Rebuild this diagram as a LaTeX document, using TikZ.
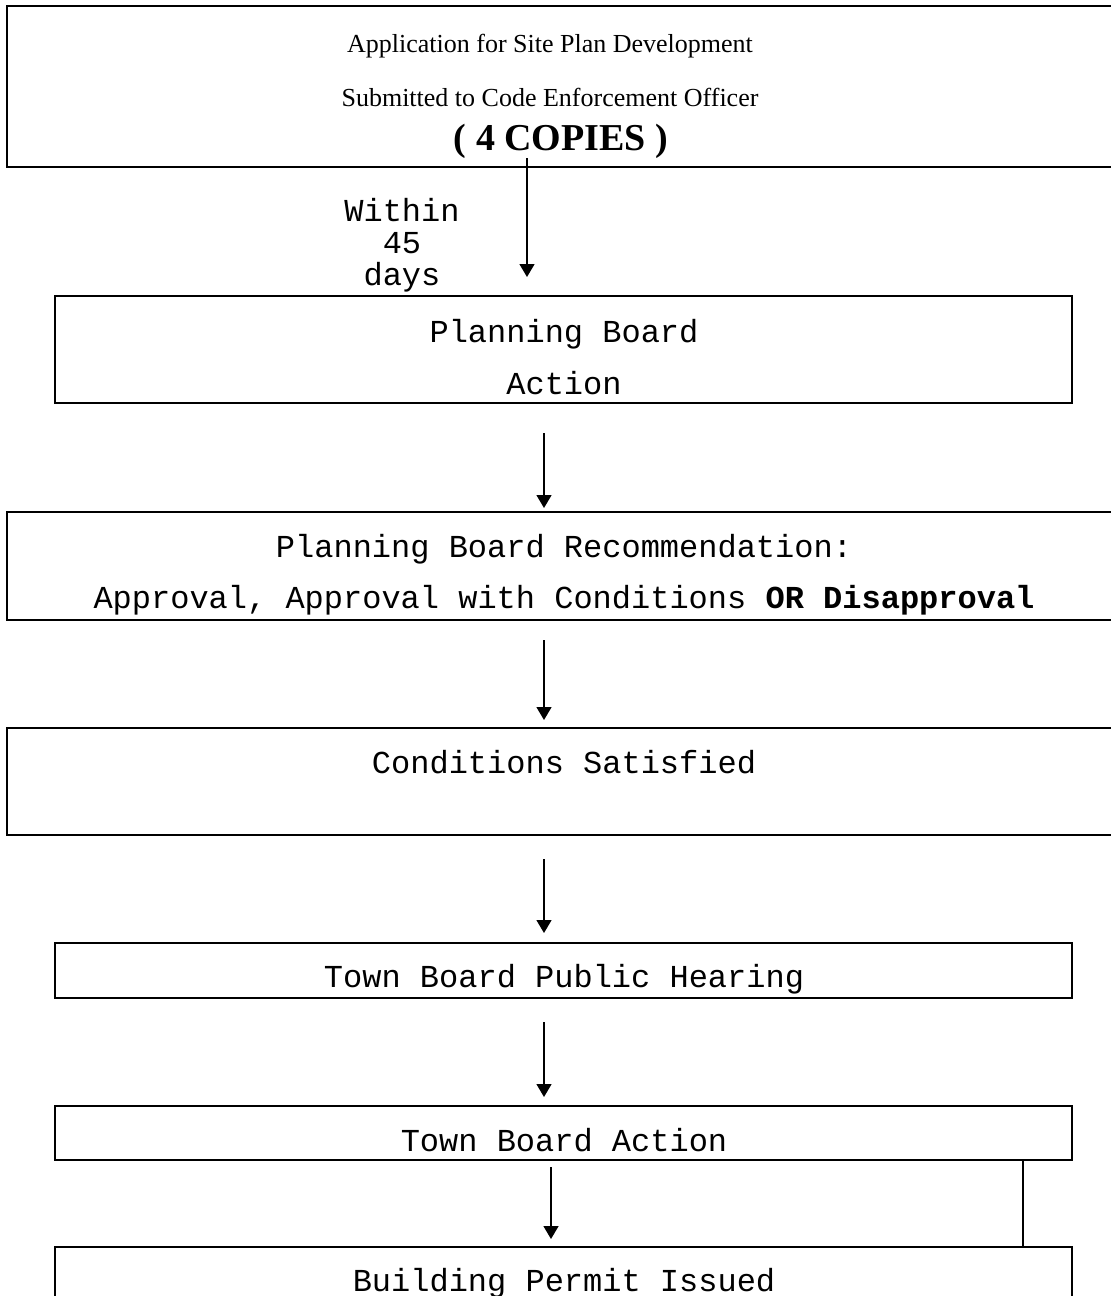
\documentclass[tikz,border=0pt]{standalone}
\usepackage{fontspec}
\setmainfont{Liberation Serif}
\newfontfamily\courfont{Liberation Mono}
\usetikzlibrary{arrows.meta, fit}

\begin{document}
\begin{tikzpicture}[x=0.5pt, y=-0.5pt,
		box/.style={draw, line width=1.1pt, inner sep=0pt, outer sep=0pt},
		serif/.style={font=\fontsize{13}{27}\selectfont, align=center, anchor=base, inner sep=0pt},
		mono/.style={font=\courfont\fontsize{16}{26}\selectfont, align=center, anchor=base, inner sep=0pt},
		arr/.style={-{Triangle[length=6.5pt, width=7.5pt]}, line width=0.7pt},
		link/.style={line width=0.7pt}]
		\clip (0,0) rectangle (1111,1296);
		% boxes
		\node[box, fit={(7,6) (1115,167)}] (app) {};
		\node[box, fit={(55,296) (1072,403)}] (pba) {};
		\node[box, fit={(7,512) (1115,620)}] (pbr) {};
		\node[box, fit={(7,728) (1115,835)}] (cs) {};
		\node[box, fit={(55,943) (1072,998)}] (tbh) {};
		\node[box, fit={(55,1106) (1072,1160)}] (tba) {};
		\node[box, fit={(55,1247) (1072,1320)}] (bpi) {};
		% texts (multi-line nodes sit on their last baseline)
		\node[serif] (appT) at (550,106) {Application for Site Plan Development\\Submitted to Code Enforcement Officer};
		\node[serif, font=\bfseries\fontsize{19}{19}\selectfont] (copies) at (561,150) {( 4 COPIES )};
		\node[mono, font=\courfont\fontsize{16}{16}\selectfont] (within) at (402,285) {Within\\45\\days};
		\node[mono] (pbaT) at (564,394) {Planning Board\\Action};
		\node[mono, font=\courfont\fontsize{16}{25.5}\selectfont] (pbrT) at (564,608)
			{Planning Board Recommendation:\\Approval, Approval with Conditions \textbf{OR Disapproval}};
		\node[mono] (csT) at (564,773) {Conditions Satisfied};
		\node[mono] (tbhT) at (564,987) {Town Board Public Hearing};
		\node[mono] (tbaT) at (564,1151) {Town Board Action};
		\node[mono] (bpiT) at (564,1291) {Building Permit Issued};
		% arrows
		\coordinate (xa) at (527,0);
		\coordinate (xb) at (544,0);
		\coordinate (xc) at (551,0);
		\coordinate (xr) at (1023,0);
		\draw[arr, shorten <=-4.5pt, shorten >=9.5pt] (xa |- app.south) -- (xa |- pba.north);
		\draw[arr, shorten <=15pt, shorten >=2pt] (xb |- pba.south) -- (xb |- pbr.north);
		\draw[arr, shorten <=10pt, shorten >=4pt] (xb |- pbr.south) -- (xb |- cs.north);
		\draw[arr, shorten <=12pt, shorten >=5pt] (xb |- cs.south) -- (xb |- tbh.north);
		\draw[arr, shorten <=12pt, shorten >=4.5pt] (xb |- tbh.south) -- (xb |- tba.north);
		\draw[arr, shorten <=3.5pt, shorten >=4pt] (xc |- tba.south) -- (xc |- bpi.north);
		\draw[link] (xr |- tba.south) -- (xr |- bpi.north);
	\end{tikzpicture}
\end{document}
